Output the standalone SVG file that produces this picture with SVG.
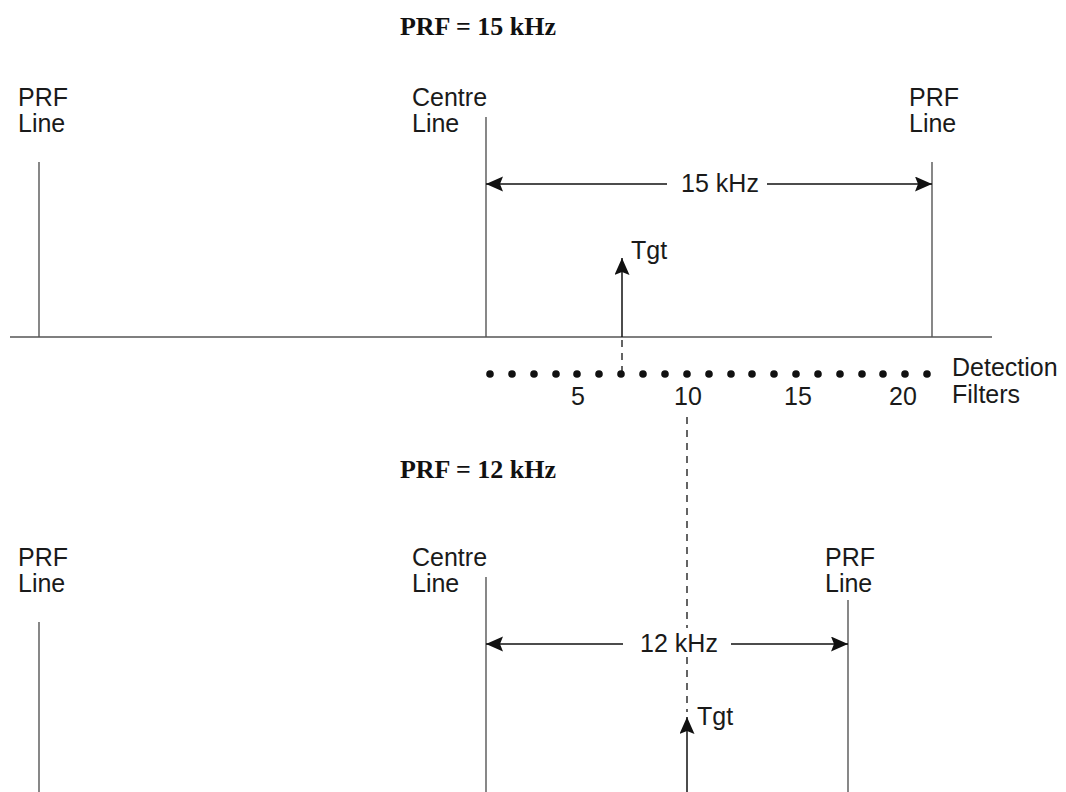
<svg xmlns="http://www.w3.org/2000/svg" width="1066" height="792" viewBox="0 0 1066 792">
<defs>
<marker id="ah" markerWidth="18" markerHeight="16" refX="17" refY="7.5" orient="auto" markerUnits="userSpaceOnUse">
<path d="M0,0 L17,7.5 L0,15 L3,7.5 Z" fill="#111"/>
</marker>
</defs>
<style>
.t{font-family:"Liberation Sans",Arial,sans-serif;font-size:25px;fill:#1a1a1a}
.ttl{font-family:"Liberation Serif","Times New Roman",serif;font-size:26px;font-weight:bold;fill:#111}
.v{stroke:#555;stroke-width:1.4;fill:none}
.a{stroke:#111;stroke-width:1.5;fill:none}
.d{stroke:#111;stroke-width:1.3;stroke-dasharray:7 6;fill:none}
.dot{fill:#111}
</style>
<rect width="1066" height="792" fill="#fff"/>

<g id="connectors">
<line class="v" x1="10" y1="337" x2="992" y2="337"/>
<line class="v" x1="39" y1="162" x2="39" y2="337"/>
<line class="v" x1="486" y1="117" x2="486" y2="337"/>
<line class="v" x1="932" y1="162" x2="932" y2="337"/>
<line class="a" x1="667" y1="184" x2="486" y2="184" marker-end="url(#ah)"/>
<line class="a" x1="767" y1="184" x2="932" y2="184" marker-end="url(#ah)"/>
<line class="a" x1="622" y1="337" x2="622" y2="258" marker-end="url(#ah)"/>
<line class="d" x1="622" y1="340" x2="622" y2="372"/>
<line class="d" x1="687" y1="417" x2="687" y2="628"/>
<line class="d" x1="687" y1="657" x2="687" y2="712"/>
<line class="v" x1="39" y1="622" x2="39" y2="792"/>
<line class="v" x1="486" y1="577" x2="486" y2="792"/>
<line class="v" x1="848" y1="600" x2="848" y2="792"/>
<line class="a" x1="623" y1="644" x2="486" y2="644" marker-end="url(#ah)"/>
<line class="a" x1="731" y1="644" x2="848" y2="644" marker-end="url(#ah)"/>
<line class="a" x1="687" y1="792" x2="687" y2="717" marker-end="url(#ah)"/>
</g>

<g id="title15"><text class="ttl" x="478" y="35" text-anchor="middle">PRF = 15 kHz</text></g>
<g id="prf-left-top"><text class="t" x="18" y="106">PRF</text><text class="t" x="18" y="132">Line</text></g>
<g id="centre-top"><text class="t" x="412" y="106">Centre</text><text class="t" x="412" y="132">Line</text></g>
<g id="prf-right-top"><text class="t" x="909" y="106">PRF</text><text class="t" x="909" y="132">Line</text></g>
<g id="label15"><text class="t" x="720" y="192" text-anchor="middle">15 kHz</text></g>
<g id="tgt-top"><text class="t" x="631" y="259">Tgt</text></g>

<g id="filters">
<circle class="dot" cx="490" cy="374" r="3.8"/>
<circle class="dot" cx="512" cy="374" r="3.8"/>
<circle class="dot" cx="534" cy="374" r="3.8"/>
<circle class="dot" cx="556" cy="374" r="3.8"/>
<circle class="dot" cx="577" cy="374" r="3.8"/>
<circle class="dot" cx="599" cy="374" r="3.8"/>
<circle class="dot" cx="621" cy="374" r="3.8"/>
<circle class="dot" cx="643" cy="374" r="3.8"/>
<circle class="dot" cx="665" cy="374" r="3.8"/>
<circle class="dot" cx="687" cy="374" r="3.8"/>
<circle class="dot" cx="709" cy="374" r="3.8"/>
<circle class="dot" cx="731" cy="374" r="3.8"/>
<circle class="dot" cx="752" cy="374" r="3.8"/>
<circle class="dot" cx="774" cy="374" r="3.8"/>
<circle class="dot" cx="796" cy="374" r="3.8"/>
<circle class="dot" cx="818" cy="374" r="3.8"/>
<circle class="dot" cx="840" cy="374" r="3.8"/>
<circle class="dot" cx="862" cy="374" r="3.8"/>
<circle class="dot" cx="883" cy="374" r="3.8"/>
<circle class="dot" cx="905" cy="374" r="3.8"/>
<circle class="dot" cx="927" cy="374" r="3.8"/>
<text class="t" x="578" y="405" text-anchor="middle">5</text>
<text class="t" x="688" y="405" text-anchor="middle">10</text>
<text class="t" x="798" y="405" text-anchor="middle">15</text>
<text class="t" x="903" y="405" text-anchor="middle">20</text>
<text class="t" x="952" y="376">Detection</text>
<text class="t" x="952" y="403">Filters</text>
</g>

<g id="title12"><text class="ttl" x="478" y="478" text-anchor="middle">PRF = 12 kHz</text></g>
<g id="prf-left-bottom"><text class="t" x="18" y="566">PRF</text><text class="t" x="18" y="592">Line</text></g>
<g id="centre-bottom"><text class="t" x="412" y="566">Centre</text><text class="t" x="412" y="592">Line</text></g>
<g id="prf-right-bottom"><text class="t" x="825" y="566">PRF</text><text class="t" x="825" y="592">Line</text></g>
<g id="label12"><text class="t" x="679" y="652" text-anchor="middle">12 kHz</text></g>
<g id="tgt-bottom"><text class="t" x="697" y="725">Tgt</text></g>
</svg>
